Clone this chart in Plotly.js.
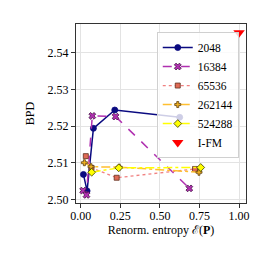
<!DOCTYPE html>
<html><head><meta charset="utf-8">
<script src="https://cdn.plot.ly/plotly-3.0.1.min.js"></script>
<style>html,body{margin:0;padding:0;background:#fff;}#c{width:254px;height:254px;}</style>
</head><body><div id="c"></div>
<script>
const seriesNames = ["2048", "16384", "65536", "262144", "524288"];
const x2048 = [0.017, 0.040, 0.080, 0.215, 0.625];
const y2048 = [2.5068, 2.5023, 2.5194, 2.5244, 2.5224];
const x16384 = [0.015, 0.036, 0.073, 0.220, 0.686];
const y16384 = [2.5024, 2.5012, 2.5228, 2.5226, 2.5030];
const x65536 = [0.032, 0.068, 0.227, 0.722];
const y65536 = [2.5118, 2.5086, 2.5059, 2.5083];
const x262144 = [0.023, 0.065, 0.243, 0.747];
const y262144 = [2.5100, 2.5089, 2.5088, 2.5074];
const x524288 = [0.069, 0.240, 0.758];
const y524288 = [2.5074, 2.5086, 2.5087];
const xIFM = [1.0];
const yIFM = [2.5455];

const serif = "'Liberation Serif', 'Times New Roman', serif";
const traces = [
  {x: x2048, y: y2048, name: seriesNames[0], mode: "lines+markers",
   line: {color: "#0a0a80", width: 1.5, dash: "solid"},
   marker: {symbol: "circle", size: 6, color: "#0a0a80", line: {color: "#0a0a80", width: 0.8}}},
  {x: x16384, y: y16384, name: seriesNames[1], mode: "lines+markers",
   line: {color: "#b030b0", width: 1.5, dash: "dash"},
   marker: {symbol: "x", size: 6, color: "#b030b0", line: {color: "#401040", width: 0.8}}},
  {x: x65536, y: y65536, name: seriesNames[2], mode: "lines+markers",
   line: {color: "#f08080", width: 1.3, dash: "dot"},
   marker: {symbol: "square", size: 5, color: "#e06a55", line: {color: "#603020", width: 0.8}}},
  {x: x262144, y: y262144, name: seriesNames[3], mode: "lines+markers",
   line: {color: "#ffbf30", width: 1.5, dash: "dashdot"},
   marker: {symbol: "cross", size: 5, color: "#f0b020", line: {color: "#604010", width: 0.8}}},
  {x: x524288, y: y524288, name: seriesNames[4], mode: "lines+markers",
   line: {color: "#ffff00", width: 1.5, dash: "dashdot"},
   marker: {symbol: "diamond", size: 6, color: "#ffff00", line: {color: "#404000", width: 0.8}}},
  {x: xIFM, y: yIFM, name: "I-FM", mode: "markers",
   marker: {symbol: "triangle-down", size: 10, color: "#ff0000", line: {width: 0}}}
];

const axisCommon = {
  showline: true, mirror: true, linecolor: "#333", linewidth: 1,
  showgrid: true, gridcolor: "#e3e3e3", gridwidth: 1,
  ticks: "outside", ticklen: 4, tickcolor: "#333", tickwidth: 1,
  tickfont: {family: serif, size: 12, color: "#000"},
  zeroline: false, automargin: false
};
const layout = {
  width: 254, height: 254,
  margin: {l: 76, r: 8, t: 24, b: 51, pad: 0},
  paper_bgcolor: "#fff", plot_bgcolor: "#fff",
  font: {family: serif, size: 12, color: "#000"},
  showlegend: true,
  legend: {x: 0.475, y: 0.955, xanchor: "left", yanchor: "top",
    bgcolor: "rgba(255,255,255,0.8)", bordercolor: "#d0d0d0", borderwidth: 1,
    font: {family: serif, size: 11.5, color: "#000"}, itemsizing: "trace",
    itemwidth: 30, tracegroupgap: 0},
  xaxis: Object.assign({}, axisCommon, {
    range: [-0.03, 1.044], tickvals: [0, 0.25, 0.5, 0.75, 1.0],
    ticktext: ["0.00", "0.25", "0.50", "0.75", "1.00"],
    ticklabelstandoff: -2,
    title: {text: "Renorm. entropy ℰ(<b>P</b>)", font: {family: serif, size: 12}, standoff: 1}
  }),
  yaxis: Object.assign({}, axisCommon, {
    range: [2.499, 2.5479], tickvals: [2.50, 2.51, 2.52, 2.53, 2.54],
    ticktext: ["2.50", "2.51", "2.52", "2.53", "2.54"],
    title: {text: "BPD", font: {family: serif, size: 12}, standoff: 10}
  })
};
Plotly.newPlot("c", traces, layout, {staticPlot: true, displayModeBar: false});
</script></body></html>
